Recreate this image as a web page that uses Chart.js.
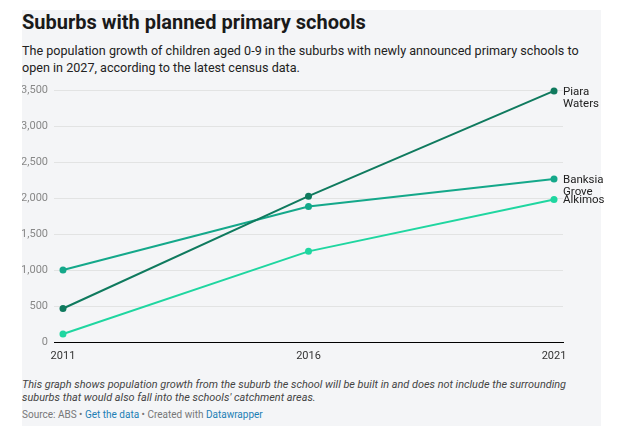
<!DOCTYPE html>
<html>
<head>
<meta charset="utf-8">
<script src="https://cdn.jsdelivr.net/npm/chart.js@4"></script>
<style>
  html, body { margin: 0; padding: 0; background: #fff; }
  body { width: 619px; height: 426px; position: relative; overflow: hidden; font-family: Roboto, sans-serif; }
  #panel { position: absolute; left: 22px; top: 10px; width: 579px; height: 416px; background: #f4f5f7; }
  #title { position: absolute; left: 22px; top: 10px; font-size: 20px; font-weight: 700; color: #1a1a1a; white-space: nowrap; }
  #sub { position: absolute; left: 22px; top: 42px; width: 575px; font-size: 12.6px; line-height: 17px; color: #222; }
  #wrap { position: absolute; left: 22px; top: 78px; width: 597px; height: 292px; }
  #note { position: absolute; left: 22px; top: 378px; width: 575px; font-size: 10.9px; line-height: 13px; font-style: italic; color: #444; }
  #src { position: absolute; left: 22px; top: 409px; font-size: 10px; color: #777; white-space: nowrap; }
  #src span { color: #1d7fb5; }
</style>
</head>
<body>
<div id="panel"></div>
<div id="title">Suburbs with planned primary schools</div>
<div id="sub">The population growth of children aged 0-9 in the suburbs with newly announced primary schools to open in 2027, according to the latest census data.</div>
<div id="wrap"><canvas id="chart" width="597" height="292"></canvas></div>
<div id="note">This graph shows population growth from the suburb the school will be built in and does not include the surrounding suburbs that would also fall into the schools' catchment areas.</div>
<div id="src">Source: ABS • <span>Get the data</span> • Created with <span>Datawrapper</span></div>
<script>
const years = [2011, 2016, 2021];
const piaraWaters = [466, 2030, 3496];
const banksiaGrove = [1003, 1887, 2270];
const alkimos = [111, 1262, 1984];
const yTicks = [0, 500, 1000, 1500, 2000, 2500, 3000, 3500];

const series = [
  { name: ['Piara', 'Waters'], values: piaraWaters, color: '#0f7a5e' },
  { name: ['Banksia', 'Grove'], values: banksiaGrove, color: '#14a88a' },
  { name: ['Alkimos'], values: alkimos, color: '#1fd6a0' }
];

// labels at the end of each line
const endLabels = {
  id: 'endLabels',
  afterDatasetsDraw(chart) {
    const ctx = chart.ctx;
    ctx.save();
    ctx.font = '11.5px Roboto, sans-serif';
    ctx.fillStyle = '#222';
    ctx.textBaseline = 'middle';
    chart.data.datasets.forEach((ds, i) => {
      const meta = chart.getDatasetMeta(i);
      const pt = meta.data[meta.data.length - 1];
      ds.endLabel.forEach((line, j) => {
        ctx.fillText(line, pt.x + 9, pt.y + 1 + j * 12.5);
      });
    });
    ctx.restore();
  }
};

const ctx = document.getElementById('chart').getContext('2d');
const chart = new Chart(ctx, {
  type: 'line',
  data: {
    datasets: series.map(s => ({
      label: s.name.join(' '),
      endLabel: s.name,
      data: years.map((y, i) => ({ x: y, y: s.values[i] })),
      borderColor: s.color,
      backgroundColor: s.color,
      borderWidth: 2,
      pointRadius: 3.5,
      pointBorderWidth: 0,
      fill: false,
      clip: false
    }))
  },
  options: {
    responsive: false,
    animation: false,
    layout: { padding: { left: 0, top: 10, right: 56, bottom: 0 } },
    plugins: { legend: { display: false }, tooltip: { enabled: false } },
    scales: {
      x: {
        type: 'linear',
        min: 2010.817,
        max: 2021.183,
        afterBuildTicks: axis => { axis.ticks = years.map(v => ({ value: v })); },
        afterFit: axis => { axis.height = 28; },
        grid: { display: false },
        border: { display: true, color: '#000', width: 1 },
        ticks: {
          color: '#333',
          font: { family: 'Roboto', size: 11 },
          padding: 0,
          maxRotation: 0,
          callback: v => String(v)
        }
      },
      y: {
        min: 0,
        max: 3500,
        afterBuildTicks: axis => { axis.ticks = yTicks.map(v => ({ value: v })); },
        afterFit: axis => { axis.width = 32; },
        border: { display: false },
        grid: {
          color: c => (c.tick && c.tick.value === 0) ? 'rgba(0,0,0,0)' : '#e2e3e3',
          drawTicks: false
        },
        ticks: {
          color: '#888',
          font: { family: 'Roboto', size: 11 },
          padding: 6,
          callback: v => v.toLocaleString('en-US')
        }
      }
    }
  },
  plugins: [endLabels]
});
</script>
</body>
</html>
